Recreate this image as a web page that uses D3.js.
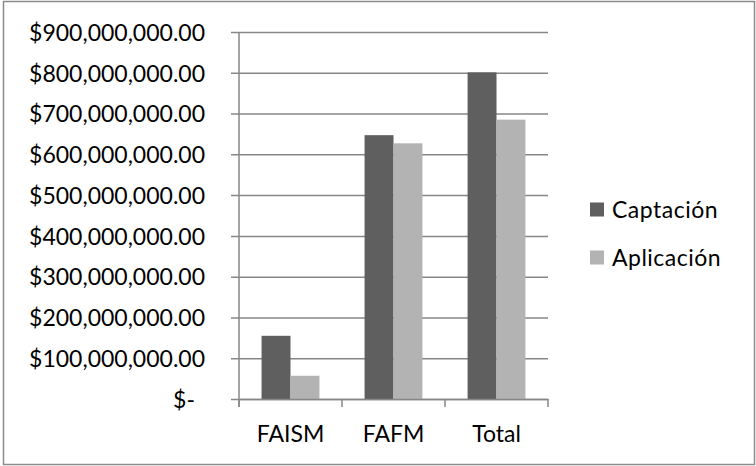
<!DOCTYPE html>
<html>
<head>
<meta charset="utf-8">
<script src="https://cdn.jsdelivr.net/npm/d3@7"></script>
<style>
  html, body { margin: 0; padding: 0; background: #fff; }
  svg { display: block; }
  text { font-family: Lato, "Open Sans", sans-serif; fill: #000; }
</style>
</head>
<body>
<svg id="chart" width="756" height="466"></svg>
<script>
// Fund categories and the two series (pesos)
const categories = ["FAISM", "FAFM", "Total"];
const seriesNames = ["Captación", "Aplicación"];
const captacion = [155000000, 647000000, 801000000];
const aplicacion = [57000000, 627000000, 685000000];
const yTicks = [0, 100000000, 200000000, 300000000, 400000000, 500000000, 600000000, 700000000, 800000000, 900000000];
const colors = ["#5f5f5f", "#b3b3b3"];

const svg = d3.select("#chart");
const plot = { left: 239, right: 548, top: 32, bottom: 399 };
const fontSize = "23px";

// outer frame
svg.append("rect")
  .attr("x", 3.5).attr("y", 1.5)
  .attr("width", 751).attr("height", 463)
  .attr("fill", "#fff").attr("stroke", "#8c8c8c").attr("stroke-width", 1.5);

const y = d3.scaleLinear().domain([0, 900000000]).range([plot.bottom, plot.top]);
const x = d3.scaleBand().domain(categories).range([plot.left, plot.right]).paddingInner(0).paddingOuter(0);
const xs = d3.scaleBand().domain(seriesNames).range([0, x.bandwidth()]).paddingInner(0).paddingOuter(0.78);

const fmt = v => v === 0 ? "$-" : "$" + d3.format(",.2f")(v);

// horizontal gridlines with left ticks
const yAxis = d3.axisLeft(y).tickValues(yTicks).tickFormat(fmt)
  .tickSize(-(plot.right - plot.left)).tickSizeOuter(0).tickPadding(0);
const gy = svg.append("g").attr("transform", `translate(${plot.left},0)`).call(yAxis);
gy.select(".domain").remove();
gy.selectAll(".tick line")
  .attr("x1", -8).attr("x2", plot.right - plot.left)
  .attr("stroke", "#878787").attr("stroke-width", 1.5);
gy.selectAll(".tick text")
  .attr("x", -34).attr("dy", "0.36em")
  .style("font-size", fontSize).style("font-family", "Lato, sans-serif").attr("fill", "#000")
  .attr("dx", d => d === 0 ? -10 : 0);

// vertical axis line
svg.append("line")
  .attr("x1", plot.left).attr("x2", plot.left)
  .attr("y1", plot.top).attr("y2", plot.bottom + 8)
  .attr("stroke", "#878787").attr("stroke-width", 1.5);

// bars
const rows = categories.map((c, i) => ({ cat: c, vals: [captacion[i], aplicacion[i]] }));
const groups = svg.append("g").selectAll("g").data(rows).join("g")
  .attr("transform", d => `translate(${x(d.cat)},0)`);
groups.selectAll("rect").data(d => d.vals.map((v, j) => ({ v, s: seriesNames[j], j })))
  .join("rect")
  .attr("x", d => xs(d.s))
  .attr("width", xs.bandwidth())
  .attr("y", d => y(d.v))
  .attr("height", d => y(0) - y(d.v))
  .attr("fill", d => colors[d.j]);

// category axis
const xAxis = d3.axisBottom(x).tickSize(0).tickSizeOuter(0).tickPadding(0);
const gx = svg.append("g").attr("transform", `translate(0,${plot.bottom})`).call(xAxis);
gx.select(".domain").attr("stroke", "#878787").attr("stroke-width", 1.5);
gx.selectAll(".tick text").attr("y", 43).attr("dy", 0)
  .style("font-size", fontSize).style("font-family", "Lato, sans-serif").attr("fill", "#000");
// category separator ticks
const sepX = categories.map(c => x(c)).concat([plot.right]);
svg.append("g").selectAll("line").data(sepX).join("line")
  .attr("x1", d => d).attr("x2", d => d)
  .attr("y1", plot.bottom).attr("y2", plot.bottom + 8)
  .attr("stroke", "#878787").attr("stroke-width", 1.5);

// legend
const legend = svg.append("g").attr("transform", "translate(590,0)");
const ly = [210, 258];
seriesNames.forEach((name, i) => {
  legend.append("rect").attr("x", 0).attr("y", ly[i] - 7.5).attr("width", 14).attr("height", 14)
    .attr("fill", colors[i]);
  legend.append("text").attr("x", 22).attr("y", ly[i]).attr("dy", "0.36em")
    .style("font-size", fontSize).style("letter-spacing", "0.5px").text(name);
});
</script>
</body>
</html>
